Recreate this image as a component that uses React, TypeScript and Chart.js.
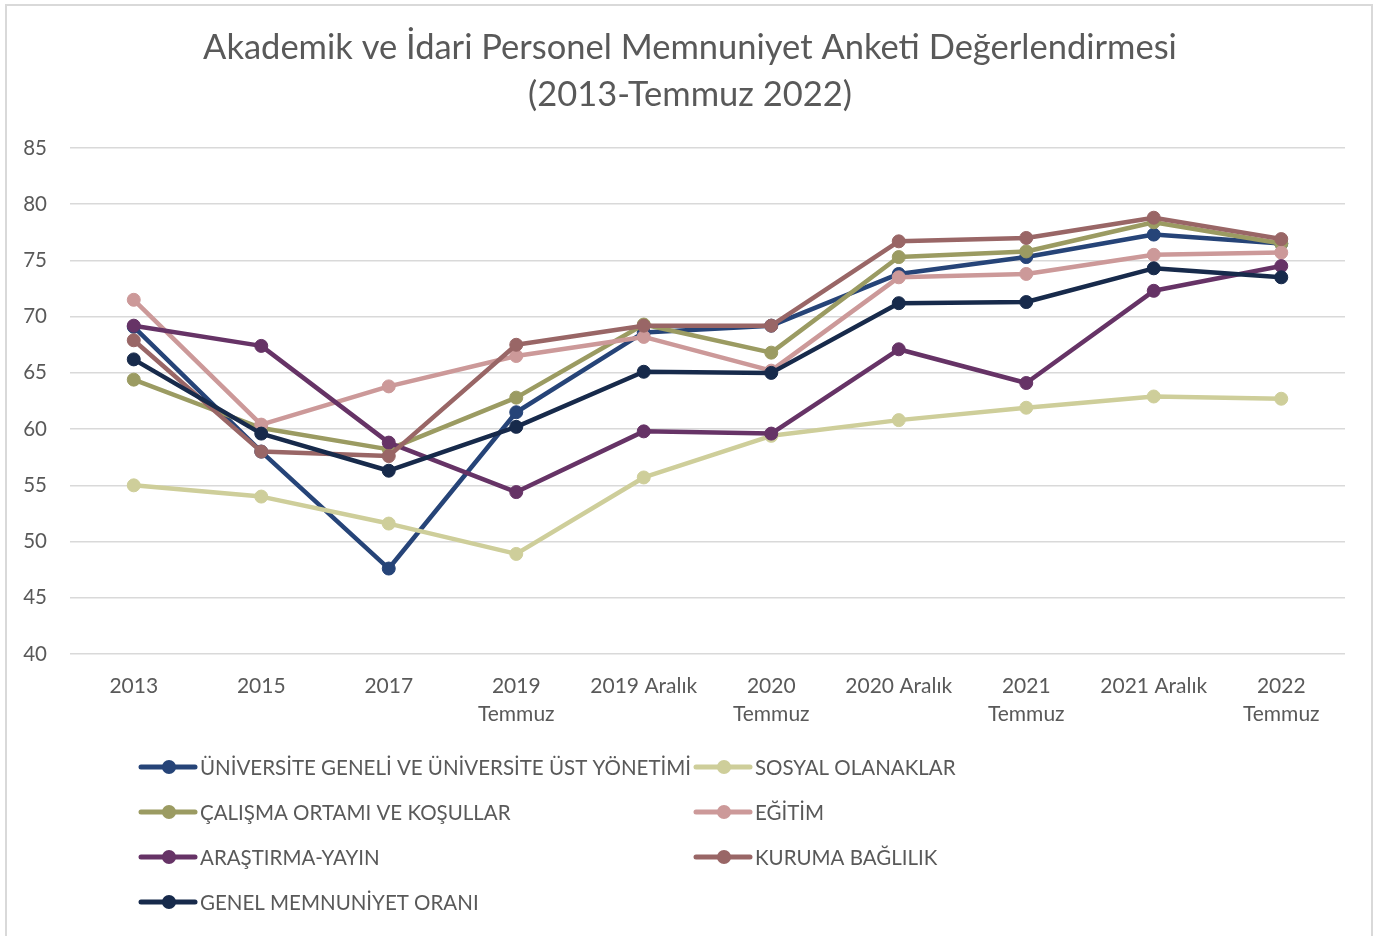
import React, { useEffect, useRef } from "react";
import { Chart, registerables } from "chart.js";
Chart.register(...registerables);

const titleLines = ["Akademik ve İdari Personel Memnuniyet Anketi Değerlendirmesi", "(2013-Temmuz 2022)"];
const categories: (string | string[])[] = [
  "2013", "2015", "2017", ["2019", "Temmuz"], "2019 Aralık",
  ["2020", "Temmuz"], "2020 Aralık", ["2021", "Temmuz"], "2021 Aralık", ["2022", "Temmuz"],
];
const yTicks = { min: 40, max: 85, step: 5 };

const seriesNames = [
  "ÜNİVERSİTE GENELİ VE ÜNİVERSİTE ÜST YÖNETİMİ",
  "SOSYAL OLANAKLAR",
  "ÇALIŞMA ORTAMI VE KOŞULLAR",
  "EĞİTİM",
  "ARAŞTIRMA-YAYIN",
  "KURUMA BAĞLILIK",
  "GENEL MEMNUNİYET ORANI",
];
const universite = [69.1, 58.0, 47.6, 61.5, 68.6, 69.2, 73.8, 75.3, 77.3, 76.5];
const sosyal = [55.0, 54.0, 51.6, 48.9, 55.7, 59.4, 60.8, 61.9, 62.9, 62.7];
const calisma = [64.4, 60.1, 58.2, 62.8, 69.3, 66.8, 75.3, 75.8, 78.4, 76.5];
const egitim = [71.5, 60.4, 63.8, 66.5, 68.2, 65.2, 73.5, 73.8, 75.5, 75.7];
const arastirma = [69.2, 67.4, 58.8, 54.4, 59.8, 59.6, 67.1, 64.1, 72.3, 74.5];
const kuruma = [67.9, 58.0, 57.6, 67.5, 69.2, 69.2, 76.7, 77.0, 78.8, 76.9];
const genel = [66.2, 59.6, 56.3, 60.2, 65.1, 65.0, 71.2, 71.3, 74.3, 73.5];
const seriesValues = [universite, sosyal, calisma, egitim, arastirma, kuruma, genel];
const seriesColors = ["#264478", "#CECE9A", "#9B9B62", "#CC9999", "#663366", "#996666", "#172A4B"];

const FONT = "Lato";
const TEXT = "#595959";
const GRID = "#D9D9D9";

const titleText = {
  id: "titleText",
  afterDraw(chart: any, _args: any, opts: any) {
    const ctx = chart.ctx;
    ctx.save();
    ctx.fillStyle = TEXT;
    ctx.font = `34.5px ${FONT}`;
    ctx.textAlign = "center";
    ctx.textBaseline = "middle";
    opts.lines.forEach((line: string, i: number) => {
      ctx.fillText(line, opts.x, opts.y + i * opts.lineHeight);
    });
    ctx.restore();
  },
};

const gridLegend = {
  id: "gridLegend",
  afterDraw(chart: any, _args: any, opts: any) {
    const ctx = chart.ctx;
    ctx.save();
    chart.data.datasets.forEach((ds: any, i: number) => {
      const col = i % 2;
      const row = Math.floor(i / 2);
      const x0 = opts.cols[col];
      const y = opts.rows[row];
      ctx.strokeStyle = ds.borderColor;
      ctx.lineWidth = 5;
      ctx.lineCap = "round";
      ctx.beginPath();
      ctx.moveTo(x0, y);
      ctx.lineTo(x0 + 54, y);
      ctx.stroke();
      ctx.fillStyle = ds.borderColor;
      ctx.beginPath();
      ctx.arc(x0 + 28, y, 7, 0, Math.PI * 2);
      ctx.fill();
      ctx.fillStyle = TEXT;
      ctx.font = `20.5px ${FONT}`;
      ctx.textBaseline = "middle";
      ctx.textAlign = "left";
      ctx.fillText(ds.label, x0 + 59, y + 1);
    });
    ctx.restore();
  },
};

export default function App() {
  const ref = useRef<HTMLCanvasElement>(null);
  useEffect(() => {
    document.body.style.margin = "0";
    const chart = new Chart(ref.current!, {
      type: "line",
      data: {
        labels: categories as any,
        datasets: seriesValues.map((vals, i) => ({
          label: seriesNames[i],
          data: vals,
          borderColor: seriesColors[i],
          backgroundColor: seriesColors[i],
          pointBackgroundColor: seriesColors[i],
          pointBorderColor: seriesColors[i],
          borderWidth: 4.5,
          pointRadius: 6.5,
          pointBorderWidth: 1,
          borderJoinStyle: "round" as const,
          borderCapStyle: "round" as const,
          tension: 0,
          order: seriesValues.length - 1 - i,
        })),
      },
      options: {
        responsive: false,
        animation: false,
        devicePixelRatio: 1,
        layout: { padding: { left: 0, right: 31, top: 148, bottom: 209 } },
        plugins: {
          legend: { display: false },
          tooltip: { enabled: false },
          title: { display: false },
          titleText: { lines: titleLines, x: 690, y: 48, lineHeight: 47 },
          gridLegend: { cols: [141, 696], rows: [767, 812, 857, 902] },
        } as any,
        scales: {
          x: {
            type: "category",
            offset: true,
            grid: { display: false },
            border: { display: false },
            ticks: {
              color: TEXT,
              font: { family: FONT, size: 21, lineHeight: 28 / 21 },
              padding: 10,
              maxRotation: 0,
              autoSkip: false,
            },
            afterFit: (s: any) => { s.height = 73; },
          },
          y: {
            min: yTicks.min,
            max: yTicks.max,
            grid: { color: GRID, lineWidth: 1.5, drawTicks: false },
            border: { display: false },
            ticks: {
              stepSize: yTicks.step,
              color: TEXT,
              font: { family: FONT, size: 20.5 },
              padding: 23,
            },
            afterFit: (s: any) => { s.width = 70; },
          },
        },
      },
      plugins: [titleText, gridLegend],
    });
    return () => chart.destroy();
  }, []);
  return (
    <div style={{ position: "fixed", left: 0, top: 0, width: 1376, height: 936, overflow: "hidden", background: "#fff" }}>
      <canvas ref={ref} width={1376} height={936} style={{ display: "block" }} />
      <div style={{ position: "absolute", left: 5, top: 4, width: 1364, height: 1000, border: "2px solid #D9D9D9", pointerEvents: "none" }} />
    </div>
  );
}
